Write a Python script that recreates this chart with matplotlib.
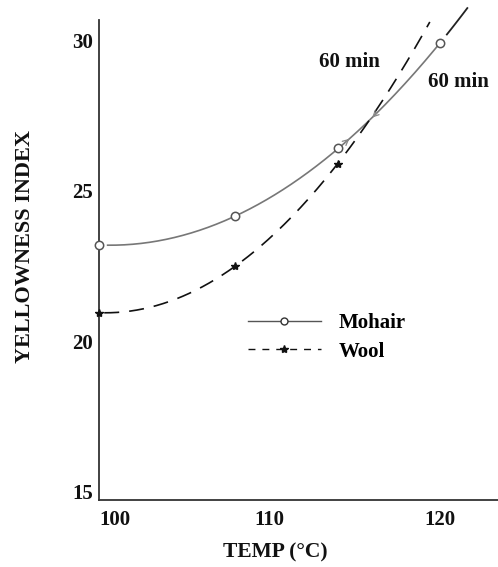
import numpy as np
import matplotlib.pyplot as plt
from matplotlib.lines import Line2D

plt.rcParams['font.family'] = ['Liberation Serif', 'DejaVu Serif']
plt.rcParams['font.weight'] = 'bold'

# yellowness index readings after 60 min at each temperature
temp = [100, 108, 114, 120]
mohair = [23.2, 24.15, 26.4, 29.9]
wool_temp = [100, 108, 114]
wool = [20.95, 22.5, 25.9]

x_ticks = [100, 110, 120]
y_ticks = [15, 20, 25, 30]

fig = plt.figure(figsize=(4.98, 5.67), dpi=100)
ax = fig.add_axes([0.199, 0.118, 0.801, 0.847])

# smooth trend curves through the measured points
pm = np.polyfit(temp, mohair, 2)
pw = np.polyfit(wool_temp, wool, 2)
xm = np.linspace(100.5, 120, 200)
xm2 = np.linspace(120.4, 121.6, 20)
xw = np.linspace(100.3, 119.4, 200)

ax.plot(xm, np.polyval(pm, xm), color='#777777', lw=1.2, clip_on=False)
ax.plot(xm2, np.polyval(pm, xm2), color='#222222', lw=1.3, clip_on=False)
ax.plot(xw, np.polyval(pw, xw), color='#111111', lw=1.2, dashes=(9, 6), clip_on=False)

ax.plot(temp, mohair, 'o', ms=6, mfc='white', mec='#555555', mew=1.1, clip_on=False, zorder=3)
ax.plot(wool_temp, wool, '*', ms=6, color='#111111', clip_on=False, zorder=3)

# small chevrons along the mohair curve
for x0, x1 in [(116.4, 115.9), (114.3, 114.8)]:
    ax.annotate('', xy=(x1, np.polyval(pm, x1)), xytext=(x0, np.polyval(pm, x0)),
                arrowprops=dict(arrowstyle='->', color='#888888', lw=0.9))

ax.text(114.7, 29.28, '60 min', fontsize=15, ha='center', va='center', color='#111111')
ax.text(121.05, 28.6, '60 min', fontsize=15, ha='center', va='center', color='#111111')

ax.set_xlim(100, 123.4)
ax.set_ylim(14.73, 30.67)
ax.set_xticks(x_ticks)
ax.set_yticks(y_ticks)
ax.tick_params(length=0, labelsize=15, colors='#111111')
ax.tick_params(axis='y', pad=4.5)
ax.tick_params(axis='x', pad=7)
ax.get_xticklabels()[0].set_horizontalalignment('left')

for s in ['top', 'right']:
    ax.spines[s].set_visible(False)
for s in ['left', 'bottom']:
    ax.spines[s].set_color('#333333')
    ax.spines[s].set_linewidth(1.3)

handles = [
    Line2D([], [], color='#555555', lw=1.0, marker='o', ms=5, mfc='white', mec='#333333'),
    Line2D([], [], color='#111111', lw=1.0, dashes=(5, 5), marker='*', ms=6),
]
fig.legend(handles, ['Mohair', 'Wool'], loc='upper left', bbox_to_anchor=(0.498, 0.448),
           frameon=False, fontsize=15, handlelength=3.5, handletextpad=0.85,
           labelspacing=0.42, borderpad=0, borderaxespad=0, numpoints=1)

fig.text(0.05, 0.565, 'YELLOWNESS INDEX', rotation=90, fontsize=16,
         ha='center', va='center', color='#111111')
fig.text(0.553, 0.026, 'TEMP (°C)', fontsize=15.5, ha='center', va='center', color='#111111')

fig.savefig('out.png', dpi=100)
